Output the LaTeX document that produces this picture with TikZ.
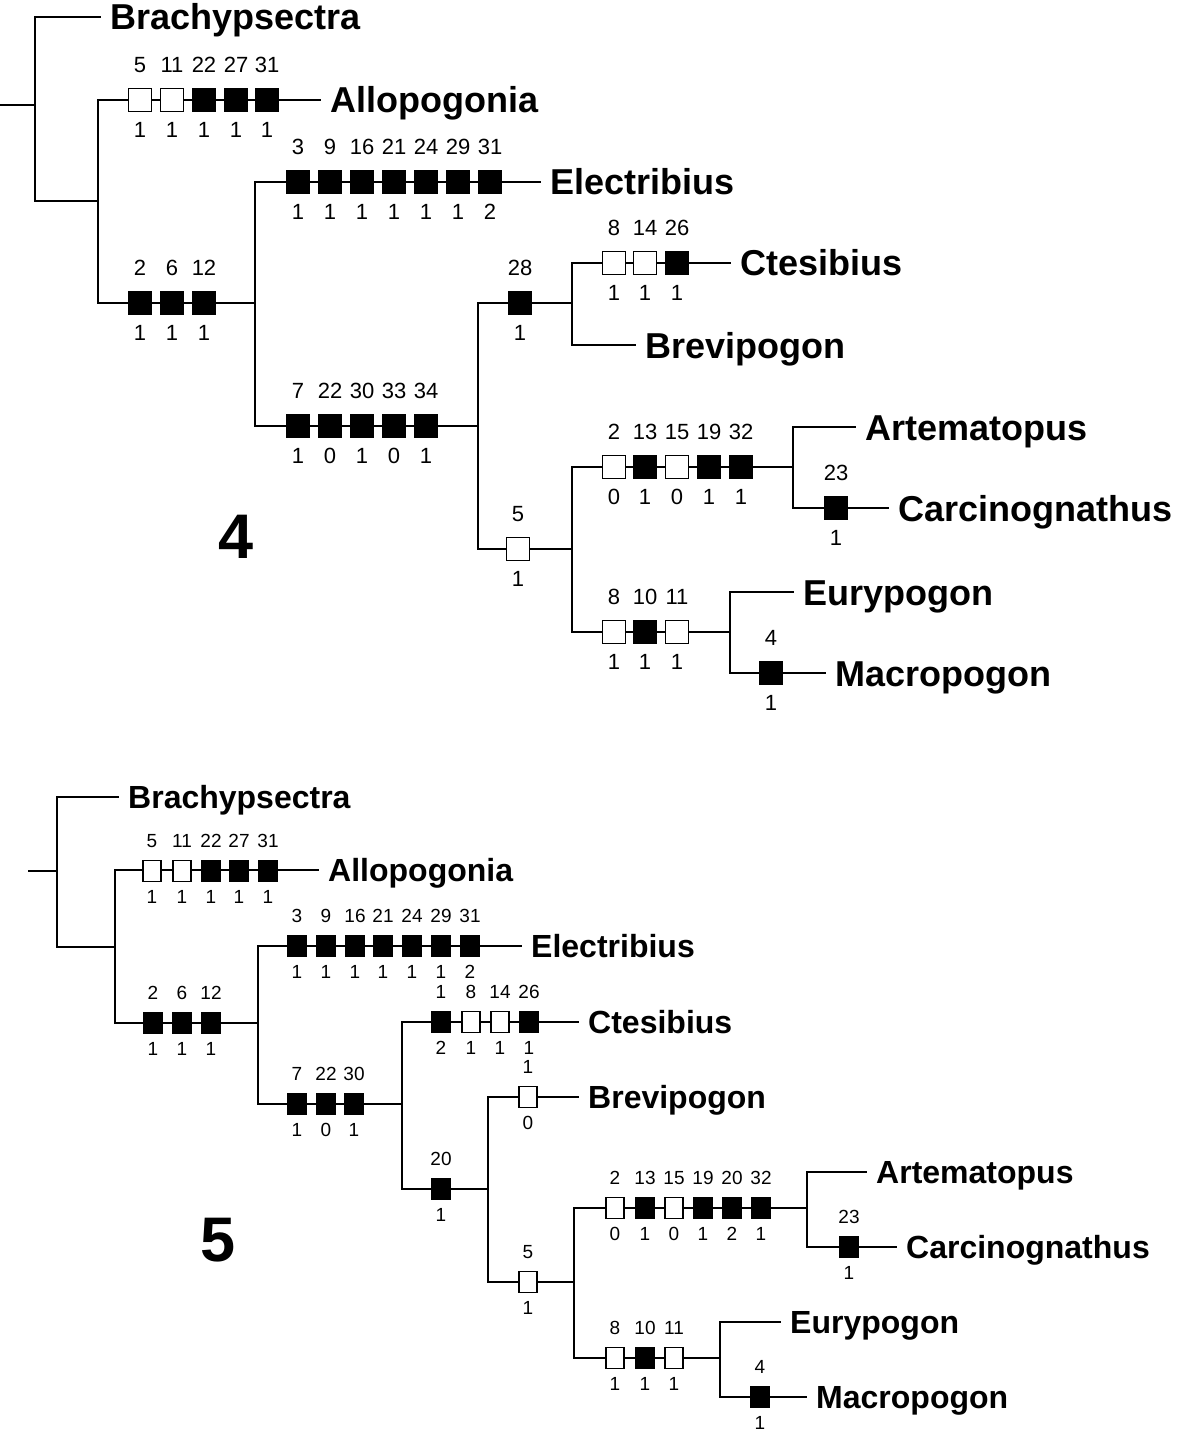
\documentclass[tikz,border=0pt]{standalone}
\usepackage{fontspec}
\setmainfont{Liberation Sans}
\usetikzlibrary{positioning}

\begin{document}
\begin{tikzpicture}[x=1pt, y=-1pt,
  branch/.style={line width=2pt, line cap=rect},
  taxon/.style={anchor=west, inner xsep=10pt, inner ysep=0pt,
                text height=26pt, text depth=0pt,
                font=\fontsize{36}{40}\selectfont\bfseries},
  chr/.style={draw, line width=1.5pt, inner sep=0pt,
              minimum width=23pt, minimum height=23pt},
  uniq/.style={chr, fill=black},
  homo/.style={chr, fill=white},
  num/.style={inner sep=0pt, text height=16pt, text depth=0pt,
              font=\fontsize{22}{25}\selectfont},
  fignum/.style={font=\fontsize{63}{70}\selectfont\bfseries}
]
\useasboundingbox (0,0) rectangle (1177,1431);

% ---- tree 4
\coordinate (r4)  at (0,105);
\coordinate (n4a) at (35,105);
\coordinate (n4b) at (98,201);
\coordinate (n4c) at (255,303);
\coordinate (n4d) at (478,426);
\coordinate (n4e) at (572,303);
\coordinate (n4f) at (572,549);
\coordinate (n4g) at (793,467);
\coordinate (n4h) at (730,632);

\node[taxon] (brach4) at (100,17)  {Brachypsectra};
\node[taxon] (allo4)  at (320,100) {Allopogonia};
\node[taxon] (elec4)  at (540,182) {Electribius};
\node[taxon] (ctes4)  at (730,263) {Ctesibius};
\node[taxon] (brev4)  at (635,345) {Brevipogon};
\node[taxon] (arte4)  at (855,427) {Artematopus};
\node[taxon] (carc4)  at (888,508) {Carcinognathus};
\node[taxon] (eury4)  at (793,592) {Eurypogon};
\node[taxon] (macr4)  at (825,673) {Macropogon};
\node[fignum] (fig4)  at (236,537) {4};

\draw[branch] (r4) -- (n4a);
\draw[branch] (n4a) |- (brach4.west);
\draw[branch] (n4a) |- (n4b);
\draw[branch] (n4b) |- (allo4.west);
\draw[branch] (n4b) |- (n4c);
\draw[branch] (n4c) |- (elec4.west);
\draw[branch] (n4c) |- (n4d);
\draw[branch] (n4d) |- (n4e);
\draw[branch] (n4d) |- (n4f);
\draw[branch] (n4e) |- (ctes4.west);
\draw[branch] (n4e) |- (brev4.west);
\draw[branch] (n4f) |- (n4g);
\draw[branch] (n4f) |- (n4h);
\draw[branch] (n4g) |- (arte4.west);
\draw[branch] (n4g) |- (carc4.west);
\draw[branch] (n4h) |- (eury4.west);
\draw[branch] (n4h) |- (macr4.west);

% character boxes: x / y / character / state style / state
\foreach \xx/\yy/\cn/\st/\cs in {
    140/100/5/homo/1, 172/100/11/homo/1, 204/100/22/uniq/1, 236/100/27/uniq/1, 267/100/31/uniq/1,
    140/303/2/uniq/1, 172/303/6/uniq/1, 204/303/12/uniq/1,
    298/182/3/uniq/1, 330/182/9/uniq/1, 362/182/16/uniq/1, 394/182/21/uniq/1,
    426/182/24/uniq/1, 458/182/29/uniq/1, 490/182/31/uniq/2,
    298/426/7/uniq/1, 330/426/22/uniq/0, 362/426/30/uniq/1, 394/426/33/uniq/0, 426/426/34/uniq/1,
    520/303/28/uniq/1,
    614/263/8/homo/1, 645/263/14/homo/1, 677/263/26/uniq/1,
    518/549/5/homo/1,
    614/467/2/homo/0, 645/467/13/uniq/1, 677/467/15/homo/0, 709/467/19/uniq/1, 741/467/32/uniq/1,
    836/508/23/uniq/1,
    614/632/8/homo/1, 645/632/10/uniq/1, 677/632/11/homo/1,
    771/673/4/uniq/1}
{
  \node[\st] (b4-\xx-\yy) at (\xx,\yy) {};
  \node[num, anchor=south] (c4-\xx-\yy) at ([yshift=15pt]b4-\xx-\yy.north) {\cn};
  \node[num, anchor=north] (s4-\xx-\yy) at ([yshift=-9pt]b4-\xx-\yy.south) {\cs};
}

% ---- tree 5
\begin{scope}[
  chr/.append style={minimum width=18pt, minimum height=21pt},
  num/.append style={text height=14pt, font=\fontsize{19}{22}\selectfont},
  taxon/.append style={text height=23pt, font=\fontsize{32}{36}\selectfont\bfseries}]
\coordinate (r5)  at (29,871);
\coordinate (n5a) at (57,871);
\coordinate (n5b) at (115,947);
\coordinate (n5c) at (258,1023);
\coordinate (n5d) at (402,1104);
\coordinate (n5e) at (488,1189);
\coordinate (n5f) at (574,1282);
\coordinate (n5g) at (807,1208);
\coordinate (n5h) at (720,1358);

\node[taxon] (brach5) at (118,797)  {Brachypsectra};
\node[taxon] (allo5)  at (318,870)  {Allopogonia};
\node[taxon] (elec5)  at (521,946)  {Electribius};
\node[taxon] (ctes5)  at (578,1022) {Ctesibius};
\node[taxon] (brev5)  at (578,1097) {Brevipogon};
\node[taxon] (arte5)  at (866,1172) {Artematopus};
\node[taxon] (carc5)  at (896,1247) {Carcinognathus};
\node[taxon] (eury5)  at (780,1322) {Eurypogon};
\node[taxon] (macr5)  at (806,1397) {Macropogon};
\node[fignum] (fig5)  at (218,1240) {5};

\draw[branch] (r5) -- (n5a);
\draw[branch] (n5a) |- (brach5.west);
\draw[branch] (n5a) |- (n5b);
\draw[branch] (n5b) |- (allo5.west);
\draw[branch] (n5b) |- (n5c);
\draw[branch] (n5c) |- (elec5.west);
\draw[branch] (n5c) |- (n5d);
\draw[branch] (n5d) |- (ctes5.west);
\draw[branch] (n5d) |- (n5e);
\draw[branch] (n5e) |- (brev5.west);
\draw[branch] (n5e) |- (n5f);
\draw[branch] (n5f) |- (n5g);
\draw[branch] (n5f) |- (n5h);
\draw[branch] (n5g) |- (arte5.west);
\draw[branch] (n5g) |- (carc5.west);
\draw[branch] (n5h) |- (eury5.west);
\draw[branch] (n5h) |- (macr5.west);

\foreach \xx/\yy/\cn/\st/\cs in {
    152/871/5/homo/1, 182/871/11/homo/1, 211/871/22/uniq/1, 239/871/27/uniq/1, 268/871/31/uniq/1,
    153/1023/2/uniq/1, 182/1023/6/uniq/1, 211/1023/12/uniq/1,
    297/946/3/uniq/1, 326/946/9/uniq/1, 355/946/16/uniq/1, 383/946/21/uniq/1,
    412/946/24/uniq/1, 441/946/29/uniq/1, 470/946/31/uniq/2,
    297/1104/7/uniq/1, 326/1104/22/uniq/0, 354/1104/30/uniq/1,
    441/1022/1/uniq/2, 471/1022/8/homo/1, 500/1022/14/homo/1, 529/1022/26/uniq/1,
    441/1189/20/uniq/1,
    528/1097/1/homo/0,
    528/1282/5/homo/1,
    615/1208/2/homo/0, 645/1208/13/uniq/1, 674/1208/15/homo/0, 703/1208/19/uniq/1,
    732/1208/20/uniq/2, 761/1208/32/uniq/1,
    849/1247/23/uniq/1,
    615/1358/8/homo/1, 645/1358/10/uniq/1, 674/1358/11/homo/1,
    760/1397/4/uniq/1}
{
  \node[\st] (b5-\xx-\yy) at (\xx,\yy) {};
  \node[num, anchor=south] (c5-\xx-\yy) at ([yshift=12pt]b5-\xx-\yy.north) {\cn};
  \node[num, anchor=north] (s5-\xx-\yy) at ([yshift=-7pt]b5-\xx-\yy.south) {\cs};
}
\end{scope}

\end{tikzpicture}
\end{document}
